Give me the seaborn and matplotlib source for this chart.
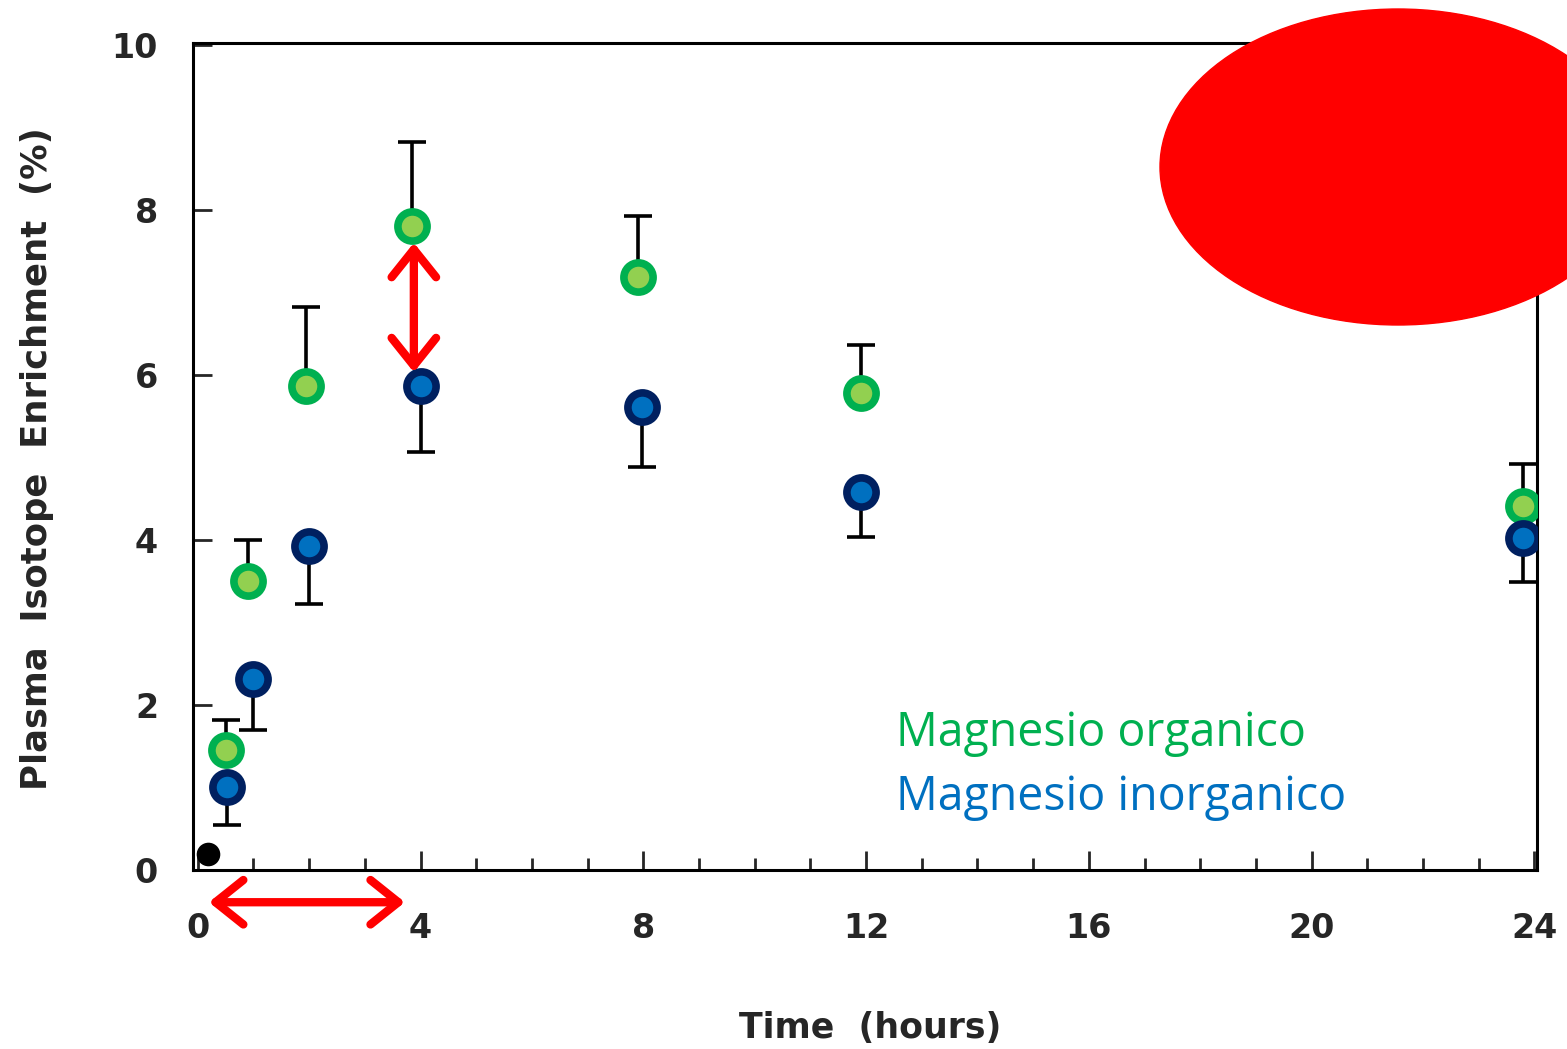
import matplotlib
matplotlib.use("Agg")
import matplotlib.pyplot as plt
import seaborn as sns
import pandas as pd
from matplotlib.patches import Ellipse
from matplotlib.ticker import MultipleLocator

# ---- data ----
time_org = [0.5, 0.9, 1.95, 3.85, 7.9, 11.9, 23.8]
enr_org = [1.46, 3.5, 5.87, 7.8, 7.18, 5.78, 4.41]
err_org_up = [0.36, 0.5, 0.95, 1.02, 0.75, 0.58, 0.51]

time_inorg = [0.52, 1.0, 2.0, 4.0, 7.97, 11.9, 23.8]
enr_inorg = [1.01, 2.31, 3.93, 5.87, 5.61, 4.58, 4.02]
err_inorg_down = [0.46, 0.61, 0.71, 0.81, 0.73, 0.54, 0.53]

baseline_time = [0.18]
baseline_enr = [0.2]

x_ticks = [0, 4, 8, 12, 16, 20, 24]
y_ticks = [0, 2, 4, 6, 8, 10]
label_org = "Magnesio organico"
label_inorg = "Magnesio inorganico"

sns.set_style("white")
plt.rcParams['font.family'] = ['DejaVu Sans']

fig = plt.figure(figsize=(15.67, 10.49), dpi=100)
ax = fig.add_axes([0.123, 0.1706, 0.858, 0.7884])

df_org = pd.DataFrame({"t": time_org, "y": enr_org})
df_inorg = pd.DataFrame({"t": time_inorg, "y": enr_inorg})

# error bars (one-sided)
ax.errorbar(time_org, enr_org, yerr=[[0] * len(err_org_up), err_org_up],
            fmt='none', ecolor='black', elinewidth=2.6, capsize=10, capthick=2.6, zorder=2)
ax.errorbar(time_inorg, enr_inorg, yerr=[err_inorg_down, [0] * len(err_inorg_down)],
            fmt='none', ecolor='black', elinewidth=2.6, capsize=10, capthick=2.6, zorder=2)

sns.scatterplot(data=df_org, x="t", y="y", ax=ax, s=21 ** 2, color="#92D050",
                edgecolor="#00B050", linewidth=5.5, zorder=3, legend=False)
sns.scatterplot(data=df_inorg, x="t", y="y", ax=ax, s=21 ** 2, color="#0070C0",
                edgecolor="#002060", linewidth=5.5, zorder=3, legend=False)
sns.scatterplot(x=baseline_time, y=baseline_enr, ax=ax, s=17 ** 2, color="black",
                edgecolor="black", linewidth=0, zorder=3, legend=False)

ax.set_xlim(-0.09, 24.05)
ax.set_ylim(0.04, 10.02)
ax.set_xticks(x_ticks)
ax.set_yticks(y_ticks)
ax.xaxis.set_minor_locator(MultipleLocator(1))
ax.tick_params(axis='x', which='major', direction='in', length=14, width=2, pad=30,
               labelsize=24, bottom=True)
ax.tick_params(axis='x', which='minor', direction='in', length=9, width=2, bottom=True)
ax.tick_params(axis='y', which='major', direction='in', length=14, width=2, pad=25,
               labelsize=24, left=True)
for lab in ax.get_xticklabels() + ax.get_yticklabels():
    lab.set_fontweight('bold')
for sp in ax.spines.values():
    sp.set_linewidth(2.2)
    sp.set_color('black')

ax.set_xlabel("Time  (hours)", fontsize=25, fontweight='bold')
ax.xaxis.label.set_va('center')
ax.xaxis.set_label_coords(0.504, -0.191)
ax.set_ylabel("Plasma  Isotope  Enrichment  (%)", fontsize=25.5, fontweight='bold')
ax.yaxis.label.set_va('center')
ax.yaxis.label.set_ha('center')
ax.yaxis.set_label_coords(-0.116, 0.497)

# legend texts
ax.text(0.523, 0.165, label_org, transform=ax.transAxes, color="#00B050",
        fontsize=33.5, family=['Open Sans', 'DejaVu Sans'], va='center', ha='left')
ax.text(0.523, 0.088, label_inorg, transform=ax.transAxes, color="#0070C0",
        fontsize=33.5, family=['Open Sans', 'DejaVu Sans'], va='center', ha='left')

# red annotations
astyle = '<->,head_length=1.0,head_width=0.8'
ax.annotate("", xy=(0.2, -0.39), xytext=(3.72, -0.39), annotation_clip=False,
            arrowprops=dict(arrowstyle=astyle, color='red', lw=6, mutation_scale=20,
                            shrinkA=0, shrinkB=0))
ax.annotate("", xy=(3.88, 7.6), xytext=(3.88, 6.03), annotation_clip=False,
            arrowprops=dict(arrowstyle=astyle, color='red', lw=6, mutation_scale=20,
                            shrinkA=0, shrinkB=0))

ell = Ellipse((1398 / 1567, 1 - 167 / 1049), 476 / 1567, 316 / 1049,
              transform=fig.transFigure, color='#FF0000', zorder=10, clip_on=False)
fig.patches.append(ell)

fig.savefig("out.png", dpi=100)
